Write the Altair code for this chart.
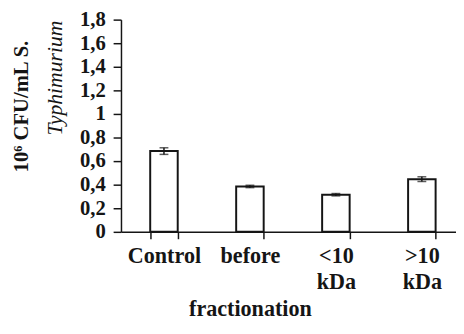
import altair as alt
import pandas as pd

# ---- data ----
categories = ["Control", "before|\u200b|fractionation", "<10|kDa", ">10|kDa"]
means = [0.685, 0.385, 0.315, 0.447]
errors = [0.028, 0.010, 0.010, 0.020]
y_ticks = [0, 0.2, 0.4, 0.6, 0.8, 1.0, 1.2, 1.4, 1.6, 1.8]
y_title_1 = "10\u2076 CFU/mL S."
y_title_2 = "Typhimurium"

df = pd.DataFrame({
    "cat": categories,
    "mean": means,
    "lo": [m - e for m, e in zip(means, errors)],
    "hi": [m + e for m, e in zip(means, errors)],
})

FONT = "Liberation Serif, Times New Roman, serif"
INK = "#151515"

x_enc = alt.X(
    "cat:N",
    sort=categories,
    scale=alt.Scale(range=[0, 350], paddingInner=0.68, paddingOuter=0.34),
    axis=alt.Axis(
        title=y_title_1,
        titleAngle=270,
        titleX=-101,
        titleY=-128,
        titleAlign="center",
        titleBaseline="middle",
        titleFont=FONT,
        titleFontSize=21,
        titleFontWeight="bold",
        titleColor=INK,
        tickBand="extent",
        labelExpr="split(datum.label, '|')",
        labelAngle=0,
        labelFont=FONT,
        labelFontSize=22.5,
        labelFontWeight="bold",
        labelLineHeight=27,
        labelPadding=6,
        labelColor=INK,
        labelLimit=0,
        labelOverlap=False,
        tickSize=7,
        tickColor=INK,
        tickWidth=1.5,
        domainColor=INK,
        domainWidth=1.5,
    ),
)

y_axis = alt.Axis(
    values=y_ticks,
    grid=False,
    labelExpr="replace(format(datum.value, '.1~f'), '.', ',')",
    labelFont=FONT,
    labelFontSize=21,
    labelFontWeight="bold",
    labelColor=INK,
    labelPadding=8,
    labelOverlap=False,
    labelSeparation=0,
    tickSize=8,
    tickColor=INK,
    tickWidth=1.5,
    domainColor=INK,
    domainWidth=1.5,
    title=y_title_2,
    titleFont=FONT,
    titleFontSize=22,
    titleFontStyle="italic",
    titleFontWeight="normal",
    titleColor=INK,
    titleAngle=270,
    titleX=-68,
    titleY=59,
    titleAlign="center",
    titleBaseline="middle",
)

y_enc = alt.Y("mean:Q", scale=alt.Scale(domain=[0, 1.8], nice=False), axis=y_axis, title=y_title_2)

bars = alt.Chart(df).mark_bar(
    fill="white", stroke=INK, strokeWidth=2
).encode(x=x_enc, y=y_enc)

err = alt.Chart(df).mark_errorbar(
    ticks=alt.MarkConfig(size=9, color=INK, strokeWidth=1.5),
    color=INK,
    thickness=1.5,
).encode(
    x=alt.X("cat:N", sort=categories),
    y=alt.Y("lo:Q", title=y_title_2, axis=y_axis),
    y2="hi:Q",
)

chart = (
    alt.layer(bars, err)
    .properties(
        width=341,
        height=216,
        autosize=alt.AutoSizeParams(type="none"),
        padding={"left": 115, "top": 9, "right": 0, "bottom": 93},
        background="white",
    )
    .configure_view(stroke=None)
    .configure_axis(labelOverlap=False)
    .configure_axisY(labelOverlap=False)
)

chart.save("out.html", embed_options={"renderer": "svg", "actions": False})
